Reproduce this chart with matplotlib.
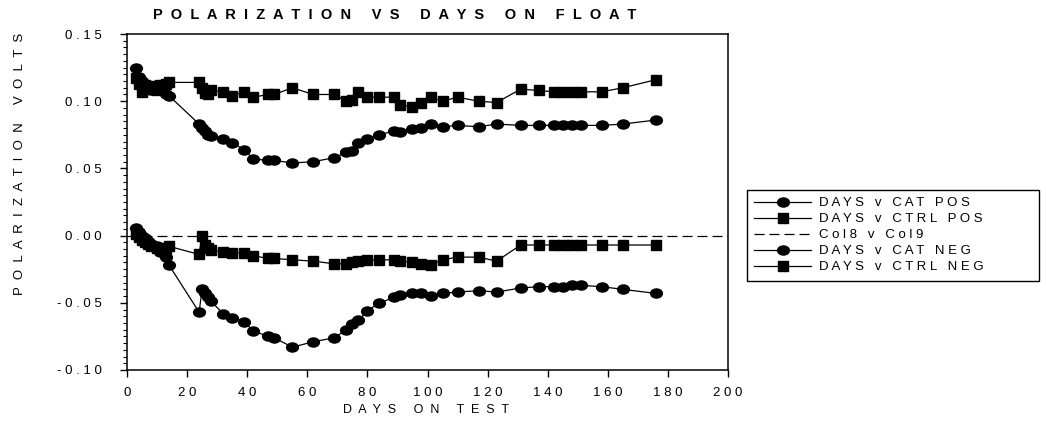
"""
Polarization vs days on float -- recreation of scanned chart.
"""

import numpy as np
import matplotlib
matplotlib.use('Agg')
import matplotlib.pyplot as plt
from matplotlib.path import Path
from matplotlib.patches import Rectangle
from matplotlib.ticker import MultipleLocator, FuncFormatter

# ---- data ----
DAYS = [3, 4, 5, 6, 7, 8, 10, 11, 13, 14, 24, 25, 26, 27, 28, 32, 35, 39, 42, 47,
        49, 55, 62, 69, 73, 75, 77, 80, 84, 89, 91, 95, 98, 101, 105, 110, 117, 123,
        131, 137, 142, 145, 148, 151, 158, 165, 176]

CAT_POS = [0.125, 0.118, 0.115, 0.111, 0.110, 0.108, 0.112, 0.109, 0.105, 0.104,
           0.083, 0.080, 0.078, 0.075, 0.074, 0.072, 0.069, 0.064, 0.057, 0.056,
           0.056, 0.054, 0.055, 0.058, 0.062, 0.063, 0.069, 0.072, 0.075, 0.078,
           0.077, 0.079, 0.080, 0.083, 0.081, 0.082, 0.081, 0.083, 0.082, 0.082,
           0.082, 0.082, 0.082, 0.082, 0.082, 0.083, 0.086]

CTRL_POS = [0.117, 0.113, 0.107, 0.112, 0.109, 0.111, 0.108, 0.112, 0.113, 0.114,
            0.114, 0.110, 0.106, 0.105, 0.108, 0.107, 0.104, 0.107, 0.103, 0.105,
            0.105, 0.110, 0.105, 0.105, 0.100, 0.101, 0.107, 0.103, 0.103, 0.103,
            0.097, 0.096, 0.099, 0.103, 0.100, 0.103, 0.100, 0.099, 0.109, 0.108,
            0.107, 0.107, 0.107, 0.107, 0.107, 0.110, 0.116]

CAT_NEG = [0.006, 0.003, 0.000, -0.002, -0.004, -0.006, -0.008, -0.012, -0.016, -0.022,
           -0.057, -0.040, -0.043, -0.046, -0.049, -0.058, -0.061, -0.064, -0.071, -0.075,
           -0.076, -0.083, -0.079, -0.076, -0.070, -0.066, -0.063, -0.056, -0.050, -0.046,
           -0.044, -0.043, -0.043, -0.045, -0.043, -0.042, -0.041, -0.042, -0.039, -0.038,
           -0.038, -0.038, -0.037, -0.037, -0.038, -0.040, -0.043]

CTRL_NEG = [0.001, -0.001, -0.003, -0.005, -0.006, -0.008, -0.009, -0.010, -0.009, -0.008,
            -0.014, 0.000, -0.007, -0.009, -0.011, -0.012, -0.013, -0.013, -0.015, -0.017,
            -0.017, -0.018, -0.019, -0.021, -0.021, -0.020, -0.019, -0.018, -0.018, -0.018,
            -0.019, -0.020, -0.021, -0.022, -0.018, -0.016, -0.016, -0.019, -0.007, -0.007,
            -0.007, -0.007, -0.007, -0.007, -0.007, -0.007, -0.007]

COL8 = [0, 200]
COL9 = [0.0, 0.0]

LABELS = ['DAYS v CAT POS', 'DAYS v CTRL POS', 'Col8 v Col9',
          'DAYS v CAT NEG', 'DAYS v CTRL NEG']


def spaced(s, gap=1):
    # the old plotting package letter-spaced everything
    return (' ' * gap).join(s)


def main():
    plt.rcParams['font.family'] = ['Liberation Sans', 'DejaVu Sans']

    W, H = 1046, 423
    fig = plt.figure(figsize=(W / 100, H / 100), dpi=100)
    ax = fig.add_axes([0.1214, 0.1253, 0.5746, 0.7943])

    # slightly flattened circle, like the scanned markers
    circ = Path.unit_circle()
    ellipse = Path(circ.vertices * np.array([1.3, 1.0]), circ.codes)

    common = dict(color='black', lw=0.9, markersize=8.5)
    ax.plot(DAYS, CAT_POS, marker=ellipse, label=spaced(LABELS[0]), **common)
    ax.plot(DAYS, CTRL_POS, marker='s', label=spaced(LABELS[1]),
            color='black', lw=0.9, markersize=7)
    ax.plot(COL8, COL9, ls=(0, (8, 4)), color='black', lw=0.9,
            label=spaced(LABELS[2]))
    ax.plot(DAYS, CAT_NEG, marker=ellipse, label=spaced(LABELS[3]), **common)
    ax.plot(DAYS, CTRL_NEG, marker='s', label=spaced(LABELS[4]),
            color='black', lw=0.9, markersize=7)

    ax.set_xlim(0, 200)
    ax.set_ylim(-0.10, 0.15)
    ax.xaxis.set_major_locator(MultipleLocator(20))
    ax.yaxis.set_major_locator(MultipleLocator(0.05))
    ax.yaxis.set_minor_locator(MultipleLocator(0.005))
    ax.xaxis.set_major_formatter(FuncFormatter(lambda v, p: spaced(f'{v:.0f}')))
    ax.yaxis.set_major_formatter(FuncFormatter(lambda v, p: spaced(f'{v:.2f}')))
    ax.tick_params(axis='both', which='major', direction='out', length=5,
                   width=1, labelsize=9.5)
    ax.tick_params(axis='x', which='major', pad=7)
    ax.tick_params(axis='y', which='major', pad=13)
    ax.tick_params(axis='y', which='minor', direction='out', length=3, width=0.8)
    for sp in ax.spines.values():
        sp.set_linewidth(1.1)

    ax.set_title(spaced('POLARIZATION VS DAYS ON FLOAT', 2), fontsize=10.5,
                 fontweight='bold', pad=11, x=0.446)
    ax.set_xlabel(spaced('DAYS ON TEST', 2), fontsize=9)
    ax.xaxis.set_label_coords(0.497, -0.1)
    ax.set_ylabel(spaced('POLARIZATION VOLTS', 2), fontsize=9.5)
    ax.yaxis.set_label_coords(-0.168, 0.613)

    # legend entries without their own frame; the box runs well past the text
    fig.legend(loc='upper left', bbox_to_anchor=(747 / W, 1 - 190 / H),
               fontsize=9.5, frameon=False, borderpad=0.55, handlelength=4.3,
               handletextpad=0.6, labelspacing=0.28, borderaxespad=0)
    fig.patches.append(Rectangle((747 / W, 1 - 281 / H), 292 / W, 91 / H,
                                 transform=fig.transFigure, fill=False,
                                 edgecolor='black', linewidth=1.0))

    fig.savefig('out.png', dpi=100)
    plt.close(fig)


if __name__ == "__main__":
    main()
